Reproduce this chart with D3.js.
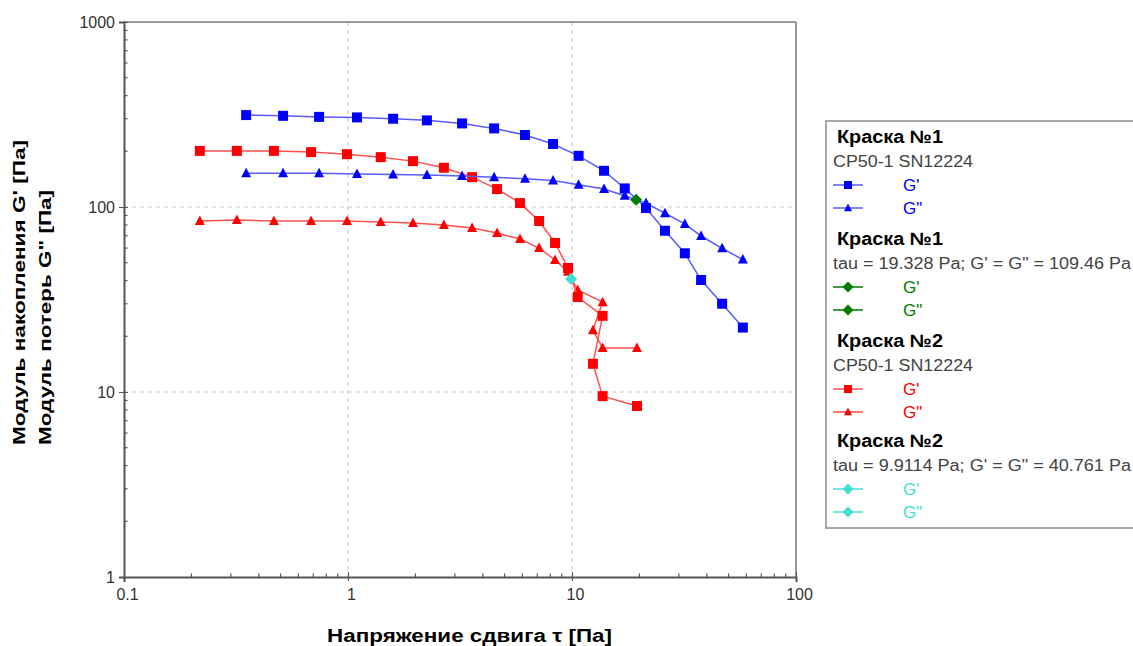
<!DOCTYPE html>
<html>
<head>
<meta charset="utf-8">
<script src="https://cdn.jsdelivr.net/npm/d3@7"></script>
<style>
  body { margin: 0; background: #fff; }
  svg { display: block; font-family: "Liberation Sans", Arial, sans-serif; }
</style>
</head>
<body>
<div id="chart"></div>
<script>
// Paint 1 (blue) - stress sweep
const paint1Stress = [0.351, 0.513, 0.743, 1.097, 1.59, 2.25, 3.23, 4.49, 6.17, 8.23, 10.7, 13.9, 17.2, 21.4, 26.0, 31.9, 37.7, 46.8, 57.9];
const paint1Gp = [314, 311, 307, 305, 300, 294, 283, 266, 245, 219, 189, 157, 126, 98.7, 74.4, 56.2, 40.3, 30.0, 22.3];
const paint1Gpp = [152, 152, 152, 151, 150, 149, 147, 145, 142, 139, 132, 125, 115, 105, 92.5, 81.0, 69.7, 59.8, 52.0];

// Paint 2 (red)
const paint2Stress = [0.218, 0.319, 0.467, 0.684, 0.99, 1.40, 1.95, 2.68, 3.58, 4.63, 5.86, 7.13, 8.40, 9.60, 10.6, 13.7, 12.4, 13.7, 19.5];
const paint2Gp = [201, 201, 201, 198, 193, 186, 177, 163, 145, 125, 105, 84.0, 63.9, 46.8, 32.6, 25.8, 14.2, 9.5, 8.4];
const paint2Gpp = [84.0, 85.0, 84.0, 84.0, 84.0, 83.0, 82.0, 80.0, 77.0, 72.3, 67.1, 60.0, 51.7, 44.6, 35.6, 30.6, 21.6, 17.3, 17.3];

// crossover points (tau, G' = G'')
const cross1 = [19.328, 109.46];
const cross2 = [9.9114, 40.761];

const xTickValues = [0.1, 1, 10, 100];
const yTickValues = [1, 10, 100, 1000];

const legendTitles = ['Краска №1', 'Краска №1', 'Краска №2', 'Краска №2'];
const legendSubtitles = ['CP50-1 SN12224', 'tau = 19.328 Pa; G\' = G" = 109.46 Pa', 'CP50-1 SN12224', 'tau = 9.9114 Pa; G\' = G" = 40.761 Pa'];
const legendItems = ["G'", 'G"'];

const xTitle = 'Напряжение сдвига τ [Па]';
const yTitle1 = "Модуль накопления G' [Па]";
const yTitle2 = 'Модуль потерь G" [Па]';

const colors = {
    blue: '#0000ff', blueLine: '#5a5aff',
    red: '#ff0000', redLine: '#ff5050',
    green: '#007a00', cyan: '#40e0d0'
};

const W = 1133, H = 646;
const svg = d3.select('#chart').append('svg')
    .attr('width', W)
    .attr('height', H);

const x = d3.scaleLog().domain([0.1, 100]).range([124, 796]);
const y = d3.scaleLog().domain([1, 1000]).range([577, 22]);

// Grid (decades only, dashed)
svg.append('g')
    .selectAll('line')
    .data(xTickValues.slice(1, -1))
    .enter().append('line')
    .attr('x1', d => x(d)).attr('x2', d => x(d))
    .attr('y1', y(1000)).attr('y2', y(1))
    .attr('stroke', '#c8c8c8').attr('stroke-width', 1)
    .attr('stroke-dasharray', '4,4');

svg.append('g')
    .selectAll('line')
    .data(yTickValues.slice(1, -1))
    .enter().append('line')
    .attr('x1', x(0.1)).attr('x2', x(100))
    .attr('y1', d => y(d)).attr('y2', d => y(d))
    .attr('stroke', '#c8c8c8').attr('stroke-width', 1)
    .attr('stroke-dasharray', '4,4');

// frame top / right
svg.append('line').attr('x1', x(0.1)).attr('x2', x(100)).attr('y1', y(1000)).attr('y2', y(1000))
    .attr('stroke', '#777').attr('stroke-width', 1.5);
svg.append('line').attr('x1', x(100)).attr('x2', x(100)).attr('y1', y(1000)).attr('y2', y(1))
    .attr('stroke', '#777').attr('stroke-width', 1.5);

// minor tick values
function minorTicks(lo, hi) {
    const out = [];
    for (let p = lo; p < hi; p *= 10) {
        for (let k = 2; k <= 9; k++) out.push(p * k);
    }
    return out;
}

function xTickLabel(d) { return d < 1 ? '0.1' : String(d); }

// X axis
const xAxis = svg.append('g')
    .attr('transform', `translate(0,${y(1)})`)
    .call(d3.axisBottom(x).tickValues(xTickValues).tickSize(5).tickFormat(xTickLabel));
xAxis.select('.domain').attr('stroke', '#555').attr('stroke-width', 2);
xAxis.selectAll('.tick line').attr('stroke', '#555').attr('y1', -5).attr('y2', 4);
xAxis.selectAll('.tick text')
    .attr('font-size', '16px').attr('fill', '#333')
    .attr('font-family', '"Liberation Sans", Arial, sans-serif')
    .attr('dx', '3').attr('y', 12);

svg.append('g').selectAll('line')
    .data(minorTicks(0.1, 100))
    .enter().append('line')
    .attr('x1', d => x(d)).attr('x2', d => x(d))
    .attr('y1', y(1)).attr('y2', y(1) - 3.5)
    .attr('stroke', '#555').attr('stroke-width', 1.2);

// Y axis
const yAxis = svg.append('g')
    .attr('transform', `translate(${x(0.1)},0)`)
    .call(d3.axisLeft(y).tickValues(yTickValues).tickSize(5).tickFormat(d3.format('d')));
yAxis.select('.domain').attr('stroke', '#555').attr('stroke-width', 2);
yAxis.selectAll('.tick line').attr('stroke', '#555').attr('x1', -5).attr('x2', 4);
yAxis.selectAll('.tick text')
    .attr('font-size', '16px').attr('fill', '#333')
    .attr('font-family', '"Liberation Sans", Arial, sans-serif')
    .attr('x', -9);

svg.append('g').selectAll('line')
    .data(minorTicks(1, 1000))
    .enter().append('line')
    .attr('x1', x(0.1)).attr('x2', x(0.1) + 3.5)
    .attr('y1', d => y(d)).attr('y2', d => y(d))
    .attr('stroke', '#555').attr('stroke-width', 1.2);

// Axis titles
svg.append('text')
    .attr('x', 327).attr('y', 642)
    .attr('font-size', '18px').attr('font-weight', 'bold')
    .attr('textLength', 285).attr('lengthAdjust', 'spacingAndGlyphs')
    .text(xTitle);

svg.append('text')
    .attr('transform', 'translate(25,445) rotate(-90)')
    .attr('font-size', '16px').attr('font-weight', 'bold')
    .attr('textLength', 305).attr('lengthAdjust', 'spacingAndGlyphs')
    .text(yTitle1);

svg.append('text')
    .attr('transform', 'translate(51,445) rotate(-90)')
    .attr('font-size', '16px').attr('font-weight', 'bold')
    .attr('textLength', 255).attr('lengthAdjust', 'spacingAndGlyphs')
    .text(yTitle2);

// Marker shapes
function markerPath(shape, s) {
    const h = s / 2;
    if (shape === 'square') return `M${-h},${-h}H${h}V${h}H${-h}Z`;
    if (shape === 'triangle') return `M0,${-h * 1.1}L${h},${h * 0.8}L${-h},${h * 0.8}Z`;
    return `M0,${-h}L${h},0L0,${h}L${-h},0Z`;
}

function drawSeries(xs, ys, lineColor, color, shape, size) {
    const pts = xs.map((d, i) => [d, ys[i]]);
    const line = d3.line().x(d => x(d[0])).y(d => y(d[1]));
    svg.append('path')
        .datum(pts)
        .attr('d', line)
        .attr('fill', 'none')
        .attr('stroke', lineColor)
        .attr('stroke-width', 1.5);
    svg.append('g').selectAll('path')
        .data(pts)
        .enter().append('path')
        .attr('transform', d => `translate(${x(d[0])},${y(d[1])})`)
        .attr('d', markerPath(shape, size))
        .attr('fill', color);
}

drawSeries(paint2Stress, paint2Gpp, colors.redLine, colors.red, 'triangle', 10);
drawSeries(paint2Stress, paint2Gp, colors.redLine, colors.red, 'square', 10);
drawSeries(paint1Stress, paint1Gpp, colors.blueLine, colors.blue, 'triangle', 10);
drawSeries(paint1Stress, paint1Gp, colors.blueLine, colors.blue, 'square', 10);

// crossover diamonds
svg.append('path')
    .attr('transform', `translate(${x(cross1[0])},${y(cross1[1])})`)
    .attr('d', markerPath('diamond', 12))
    .attr('fill', colors.green);
svg.append('path')
    .attr('transform', `translate(${x(cross2[0])},${y(cross2[1])})`)
    .attr('d', markerPath('diamond', 12))
    .attr('fill', colors.cyan);

// Legend
const legend = svg.append('g');
legend.append('rect')
    .attr('x', 826).attr('y', 121)
    .attr('width', 330).attr('height', 407)
    .attr('fill', '#fff')
    .attr('stroke', '#a8a8a8').attr('stroke-width', 2);

const groupStyle = [
    { color: colors.blue, line: colors.blueLine, shapes: ['square', 'triangle'] },
    { color: colors.green, line: colors.green, shapes: ['diamond', 'diamond'] },
    { color: colors.red, line: colors.redLine, shapes: ['square', 'triangle'] },
    { color: colors.cyan, line: colors.cyan, shapes: ['diamond', 'diamond'] }
];
const groupBase = [143, 245, 347, 447];
const subtitleWidth = [140, 298, 140, 298];

legendTitles.forEach((t, gi) => {
    const b = groupBase[gi];
    const st = groupStyle[gi];
    legend.append('text')
        .attr('x', 837).attr('y', b)
        .attr('font-size', '18px').attr('font-weight', 'bold')
        .attr('textLength', 106).attr('lengthAdjust', 'spacingAndGlyphs')
        .text(t);
    legend.append('text')
        .attr('x', 833).attr('y', b + 24)
        .attr('font-size', '16px').attr('fill', '#444')
        .attr('textLength', subtitleWidth[gi]).attr('lengthAdjust', 'spacingAndGlyphs')
        .text(legendSubtitles[gi]);
    legendItems.forEach((lab, k) => {
        const cy = b + 42 + k * 23;
        legend.append('line')
            .attr('x1', 833).attr('x2', 863)
            .attr('y1', cy).attr('y2', cy)
            .attr('stroke', st.line).attr('stroke-width', 1.5);
        legend.append('path')
            .attr('transform', `translate(848,${cy})`)
            .attr('d', markerPath(st.shapes[k], st.shapes[k] === 'diamond' ? 11 : 8))
            .attr('fill', st.color);
        legend.append('text')
            .attr('x', 903).attr('y', cy + 6)
            .attr('font-size', '17px').attr('fill', st.color)
            .text(lab);
    });
});
</script>
</body>
</html>
